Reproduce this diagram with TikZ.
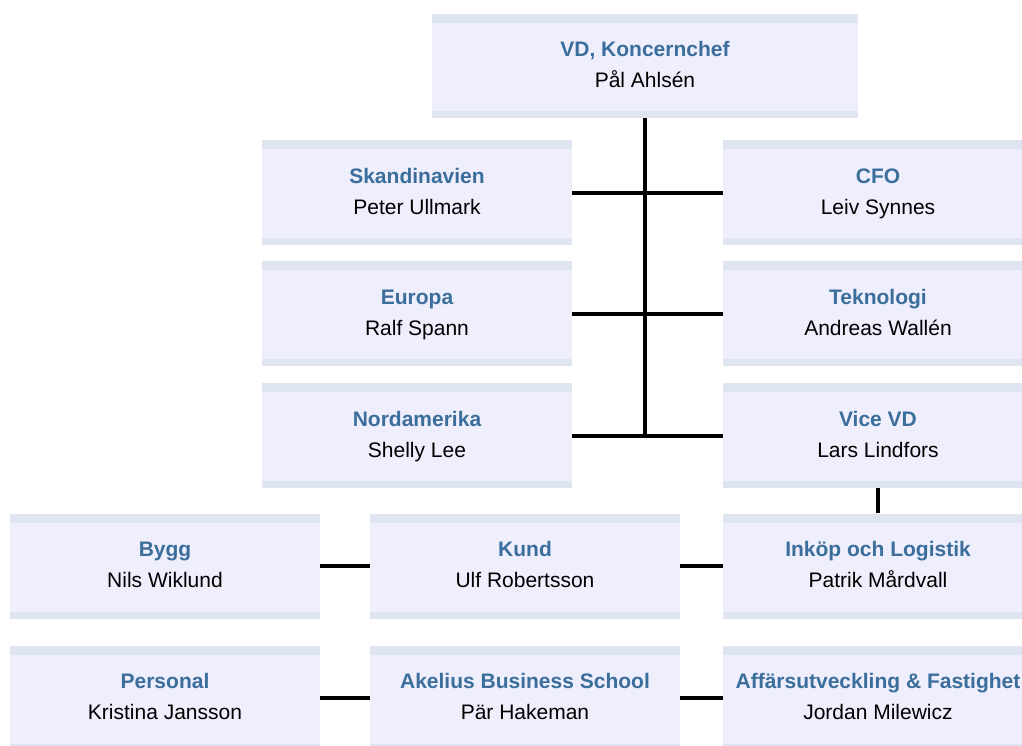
\documentclass[tikz,border=0pt]{standalone}
\usepackage{fontspec}
\setmainfont{Liberation Sans}
\usetikzlibrary{positioning}

\definecolor{boxfill}{RGB}{238,238,252}
\definecolor{boxband}{RGB}{223,229,240}
\definecolor{titleblue}{RGB}{59,110,155}

\newcommand{\orgunit}[2]{{\color{titleblue}\bfseries\strut #1}\\\strut #2}

\tikzset{
  orgbox/.style={fill=boxfill, minimum width=310pt, minimum height=105pt,
    inner sep=0pt, align=center, font=\fontsize{21}{31}\selectfont,
    path picture={
      \fill[boxband] (path picture bounding box.north west) rectangle ([yshift=-9pt]path picture bounding box.north east);
      \fill[boxband] (path picture bounding box.south west) rectangle ([yshift=7pt]path picture bounding box.south east);
    }},
  widebox/.style={orgbox, minimum width=426pt, minimum height=104pt},
  link/.style={line width=4pt}
}

\begin{document}
\begin{tikzpicture}[x=1pt, y=-1pt]
\useasboundingbox (0,0) rectangle (1022,745);
\clip (0,0) rectangle (1022,745);

% top
\node[widebox] (vd) at (645,66) {\orgunit{VD, Koncernchef}{Pål Ahlsén}};

% staff under VD
\node[orgbox] (skand) at (417,192.5) {\orgunit{Skandinavien}{Peter Ullmark}};
\node[orgbox] (cfo) at (878,192.5) {\orgunit{CFO}{Leiv Synnes}};
\node[orgbox] (europa) at (417,313.5) {\orgunit{Europa}{Ralf Spann}};
\node[orgbox] (tekn) at (878,313.5) {\orgunit{Teknologi}{Andreas Wallén}};
\node[orgbox] (nordam) at (417,435.5) {\orgunit{Nordamerika}{Shelly Lee}};
\node[orgbox] (vicevd) at (878,435.5) {\orgunit{Vice VD}{Lars Lindfors}};

% under vice VD
\node[orgbox] (bygg) at (165,566) {\orgunit{Bygg}{Nils Wiklund}};
\node[orgbox] (kund) at (525,566) {\orgunit{Kund}{Ulf Robertsson}};
\node[orgbox] (inkop) at (878,566) {\orgunit{Inköp och Logistik}{Patrik Mårdvall}};
\node[orgbox] (personal) at (165,698) {\orgunit{Personal}{Kristina Jansson}};
\node[orgbox] (akelius) at (525,698) {\orgunit{Akelius Business School}{Pär Hakeman}};
\node[orgbox] (affar) at (878,698) {\orgunit{Affärsutveckling \& Fastighet}{Jordan Milewicz}};

% connectors
\draw[link] (vd.south) -- (vd.south |- nordam.east);
\draw[link] (skand.east) -- (cfo.west);
\draw[link] (europa.east) -- (tekn.west);
\draw[link] (nordam.east) -- (vicevd.west);
\draw[link] (vicevd.south) -- (inkop.north);
\draw[link] (bygg.east) -- (kund.west);
\draw[link] (kund.east) -- (inkop.west);
\draw[link] (personal.east) -- (akelius.west);
\draw[link] (akelius.east) -- (affar.west);
\end{tikzpicture}
\end{document}
